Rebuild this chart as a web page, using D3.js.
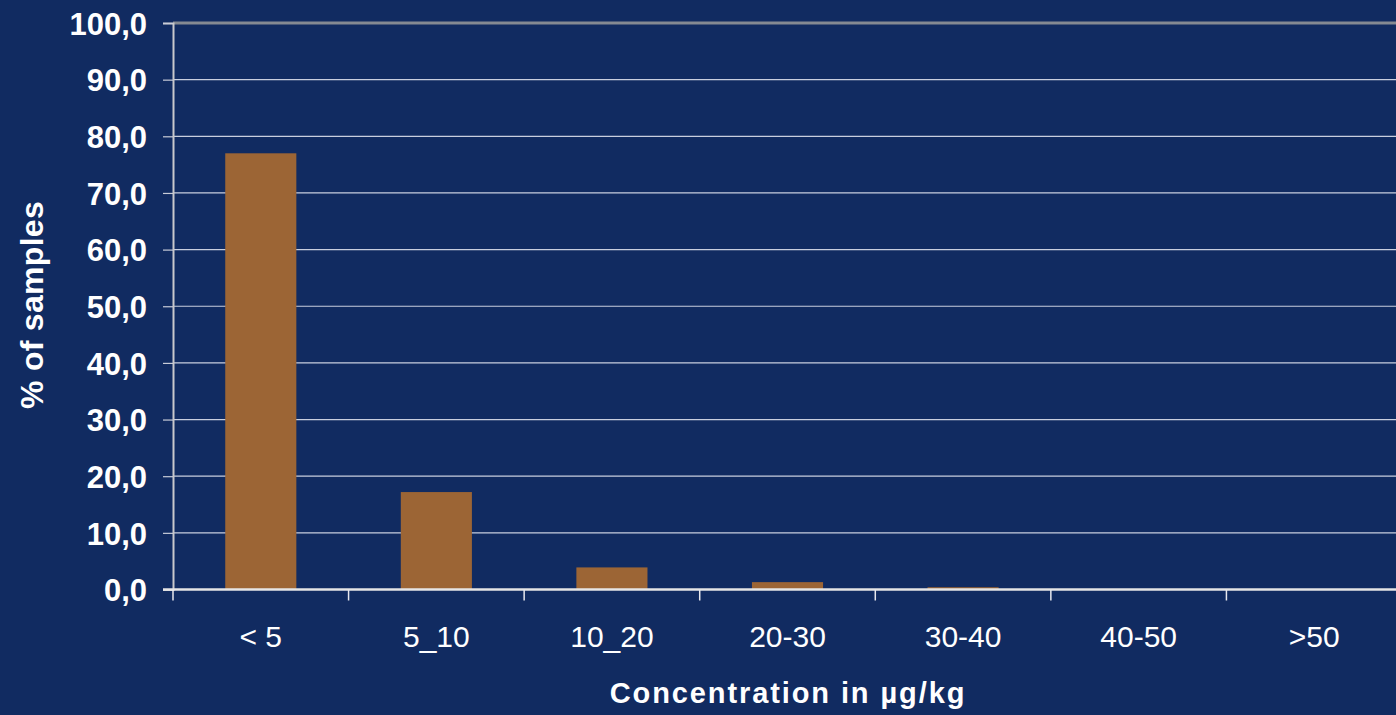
<!DOCTYPE html>
<html>
<head>
<meta charset="utf-8">
<script src="https://cdn.jsdelivr.net/npm/d3@7/dist/d3.min.js"></script>
<style>
  html, body { margin: 0; padding: 0; background: #112b61; }
  svg { display: block; }
</style>
</head>
<body>
<svg id="chart" width="1396" height="715"></svg>
<script>
const categories = ["< 5", "5_10", "10_20", "20-30", "30-40", "40-50", ">50"];
const values = [77.0, 17.2, 3.9, 1.3, 0.4, 0, 0];
const yTicks = [0, 10, 20, 30, 40, 50, 60, 70, 80, 90, 100];
const xTitle = "Concentration in µg/kg";
const yTitle = "% of samples";

(function () {
const svg = d3.select("#chart");
const W = 1396, H = 715;
svg.append("rect").attr("width", W).attr("height", H).attr("fill", "#112b61");

const pLeft = 173, pRight = 1402, pTop = 23, pBottom = 589.5;
const x = d3.scaleBand().domain(categories).range([pLeft, pRight]).paddingInner(0.595).paddingOuter(0.2975);
const xb = d3.scaleBand().domain(categories).range([pLeft, pRight]);
const y = d3.scaleLinear().domain([0, 100]).range([pBottom, pTop]);

const fmt = d => d.toFixed(1).replace(".", ",");

// gridlines
svg.append("g").selectAll("line").data(yTicks.filter(d => d > 0 && d < 100)).join("line")
  .attr("x1", pLeft).attr("x2", W).attr("y1", d => y(d)).attr("y2", d => y(d))
  .attr("stroke", "#c9cfdf").attr("stroke-width", 1.2);
// top border line
svg.append("line").attr("x1", pLeft).attr("x2", W).attr("y1", y(100)).attr("y2", y(100))
  .attr("stroke", "#858a92").attr("stroke-width", 3);

// bars
svg.append("g").selectAll("rect").data(values).join("rect")
  .attr("x", (d, i) => x(categories[i]))
  .attr("width", x.bandwidth())
  .attr("y", d => y(d))
  .attr("height", d => pBottom - y(d))
  .attr("fill", "#9c6535");

// y axis
const yAxis = svg.append("g").attr("transform", `translate(${pLeft},0)`)
  .call(d3.axisLeft(y).tickValues(yTicks).tickFormat(fmt).tickSize(10).tickPadding(16));
yAxis.select(".domain").attr("stroke", "#c8c8cc").attr("stroke-width", 2);
yAxis.selectAll(".tick line").attr("stroke", "#c8ccd8").attr("stroke-width", 1.2);
yAxis.selectAll(".tick text").attr("fill", "#ffffff")
  .style("font-family", "Liberation Sans, Arial, sans-serif")
  .style("font-size", "31px").style("font-weight", "bold").attr("dy", "0.36em");

// x axis
const xAxis = svg.append("g").attr("transform", `translate(0,${pBottom})`)
  .call(d3.axisBottom(xb).tickSize(0).tickPadding(0).tickFormat(""));
xAxis.select(".domain").remove();
svg.append("line").attr("x1", pLeft - 10).attr("x2", W).attr("y1", pBottom).attr("y2", pBottom)
  .attr("stroke", "#e6e6e6").attr("stroke-width", 2.5);
const bounds = categories.map(c => xb(c)).concat([pRight]);
svg.append("g").selectAll("line").data(bounds).join("line")
  .attr("x1", d => d).attr("x2", d => d).attr("y1", pBottom).attr("y2", pBottom + 11)
  .attr("stroke", "#e8e8ee").attr("stroke-width", 1.5);
svg.append("g").selectAll("text").data(categories).join("text")
  .attr("x", d => xb(d) + xb.bandwidth() / 2)
  .attr("y", 647)
  .attr("text-anchor", "middle")
  .attr("fill", "#ffffff")
  .style("font-family", "Liberation Sans, Arial, sans-serif")
  .style("font-size", "30px")
  .text(d => d);

// titles
svg.append("text").attr("x", 788).attr("y", 703).attr("text-anchor", "middle")
  .attr("fill", "#ffffff")
  .style("font-family", "Liberation Sans, Arial, sans-serif")
  .style("font-size", "29px").style("font-weight", "bold").style("letter-spacing", "1.9px")
  .text(xTitle);
svg.append("text").attr("transform", "translate(42.5,305) rotate(-90)").attr("text-anchor", "middle")
  .attr("fill", "#ffffff")
  .style("font-family", "Liberation Sans, Arial, sans-serif")
  .style("font-size", "32px").style("font-weight", "bold").style("letter-spacing", "0.3px")
  .text(yTitle);
})();
</script>
</body>
</html>
